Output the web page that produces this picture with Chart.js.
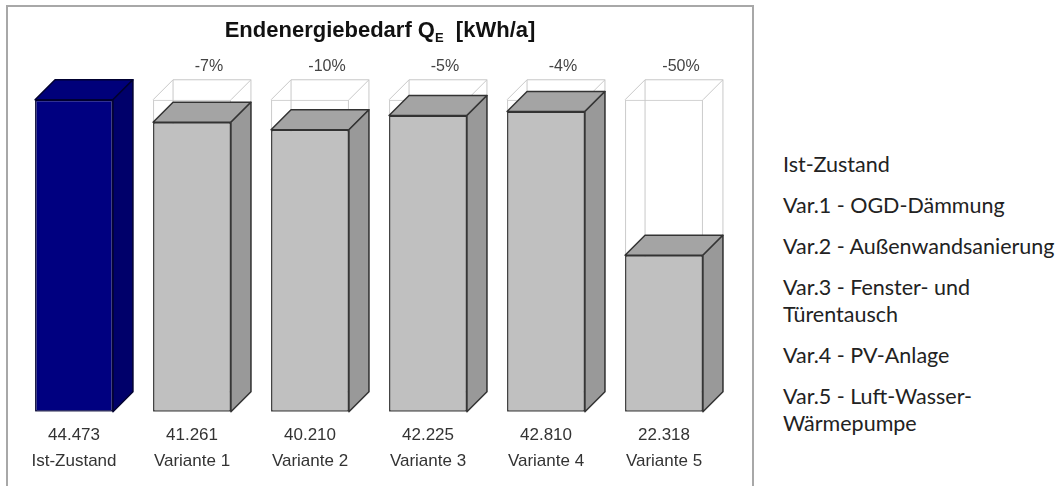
<!DOCTYPE html>
<html>
<head>
    <title>Endenergiebedarf</title>
    <script src="https://cdn.jsdelivr.net/npm/chart.js"></script>
    <style>
        body {
            margin: 0;
            background: #fff;
            width: 1062px;
            height: 486px;
            overflow: hidden;
            position: relative;
        }
        #box {
            position: absolute;
            left: 6px;
            top: 5px;
            width: 744px;
            height: 490px;
            border: 2px solid #a8a8a8;
            background: #fff;
        }
        #chartWrap {
            position: absolute;
            left: 0;
            top: 0;
            width: 744px;
            height: 479px;
        }
        #title {
            position: absolute;
            left: 0;
            top: 10px;
            width: 744px;
            text-align: center;
            font-family: "Liberation Sans", Arial, sans-serif;
            font-weight: bold;
            font-size: 22px;
            color: #111;
        }
        #title sub {
            font-size: 13px;
            vertical-align: -5px;
        }
        #measures {
            position: absolute;
            left: 783px;
            top: 151px;
            font-family: Lato, "Open Sans", sans-serif;
            font-size: 21.5px;
            line-height: 27px;
            color: #222;
            white-space: nowrap;
        }
        #measures div {
            margin-bottom: 14px;
        }
    </style>
</head>
<body>
    <div id="box">
        <div id="chartWrap"><canvas id="energyChart"></canvas></div>
        <div id="title">Endenergiebedarf Q<sub>E</sub>&nbsp; [kWh/a]</div>
    </div>
    <div id="measures"></div>

    <script>
        // Data
        const categories = ['Ist-Zustand', 'Variante 1', 'Variante 2', 'Variante 3', 'Variante 4', 'Variante 5'];
        const demand = [44473, 41261, 40210, 42225, 42810, 22318];
        const reference = [null, 44473, 44473, 44473, 44473, 44473];
        const changeLabels = ['', '-7%', '-10%', '-5%', '-4%', '-50%'];
        const measures = [
            ['Ist-Zustand'],
            ['Var.1 - OGD-Dämmung'],
            ['Var.2 - Außenwandsanierung'],
            ['Var.3 - Fenster- und', 'Türentausch'],
            ['Var.4 - PV-Anlage'],
            ['Var.5 - Luft-Wasser-', 'Wärmepumpe']
        ];

        // Right-hand list
        const list = document.getElementById('measures');
        measures.forEach(lines => {
            const d = document.createElement('div');
            lines.forEach((t, i) => {
                if (i > 0) d.appendChild(document.createElement('br'));
                d.appendChild(document.createTextNode(t));
            });
            list.appendChild(d);
        });

        // 44473 -> "44.473"
        function fmt(v) {
            return Math.floor(v / 1000) + '.' + String(v % 1000).padStart(3, '0');
        }

        const D = 20; // depth of the 3D effect in px
        const frontColors = demand.map((v, i) => i === 0 ? '#000080' : '#c0c0c0');
        const topColors = demand.map((v, i) => i === 0 ? '#00007a' : '#a4a4a4');
        const sideColors = demand.map((v, i) => i === 0 ? '#00006a' : '#999999');

        function barBox(bar) {
            const p = bar.getProps(['x', 'y', 'base', 'width'], true);
            return { l: p.x - p.width / 2, r: p.x + p.width / 2, y: p.y, base: p.base, x: p.x };
        }

        const depthPlugin = {
            id: 'depth',
            beforeDatasetsDraw(chart) {
                // wireframe of the Ist-Zustand box behind each variant
                const ctx = chart.ctx;
                const bars = chart.getDatasetMeta(1).data;
                ctx.save();
                ctx.strokeStyle = '#c8c8c8';
                ctx.lineWidth = 1;
                bars.forEach((bar, i) => {
                    if (reference[i] == null) return;
                    const b = barBox(bar);
                    ctx.beginPath();
                    ctx.rect(b.l + D, b.y - D, b.r - b.l, b.base - b.y);
                    ctx.moveTo(b.l, b.y); ctx.lineTo(b.l + D, b.y - D);
                    ctx.moveTo(b.r, b.y); ctx.lineTo(b.r + D, b.y - D);
                    ctx.moveTo(b.r, b.base); ctx.lineTo(b.r + D, b.base - D);
                    ctx.stroke();
                });
                ctx.restore();
            },
            afterDatasetsDraw(chart) {
                const ctx = chart.ctx;
                const bars = chart.getDatasetMeta(0).data;
                ctx.save();
                ctx.lineWidth = 1.5;
                ctx.lineJoin = 'round';
                bars.forEach((bar, i) => {
                    const b = barBox(bar);
                    ctx.strokeStyle = i === 0 ? '#000030' : '#333';
                    // top face
                    ctx.beginPath();
                    ctx.moveTo(b.l, b.y);
                    ctx.lineTo(b.l + D, b.y - D);
                    ctx.lineTo(b.r + D, b.y - D);
                    ctx.lineTo(b.r, b.y);
                    ctx.closePath();
                    ctx.fillStyle = topColors[i];
                    ctx.fill();
                    ctx.stroke();
                    // side face
                    ctx.beginPath();
                    ctx.moveTo(b.r, b.y);
                    ctx.lineTo(b.r + D, b.y - D);
                    ctx.lineTo(b.r + D, b.base - D);
                    ctx.lineTo(b.r, b.base);
                    ctx.closePath();
                    ctx.fillStyle = sideColors[i];
                    ctx.fill();
                    ctx.stroke();
                });
                // percentage change above the reference boxes
                const refBars = chart.getDatasetMeta(1).data;
                ctx.fillStyle = '#444';
                ctx.font = '16px "Liberation Sans", Arial, sans-serif';
                ctx.textAlign = 'center';
                ctx.textBaseline = 'middle';
                refBars.forEach((bar, i) => {
                    if (!changeLabels[i]) return;
                    const b = barBox(bar);
                    ctx.fillText(changeLabels[i], b.x + D / 2 + 7, b.y - D - 13);
                });
                ctx.restore();
            }
        };

        const ctx = document.getElementById('energyChart').getContext('2d');
        new Chart(ctx, {
            type: 'bar',
            data: {
                labels: categories,
                datasets: [
                    {
                        label: 'Endenergiebedarf',
                        data: demand,
                        backgroundColor: frontColors,
                        borderColor: demand.map((v, i) => i === 0 ? '#000030' : '#333'),
                        borderWidth: 1.5,
                        borderSkipped: false,
                        barPercentage: 0.66,
                        categoryPercentage: 1
                    },
                    {
                        label: 'Ist-Zustand',
                        data: reference,
                        backgroundColor: 'rgba(0,0,0,0)',
                        borderColor: '#c8c8c8',
                        borderWidth: 1,
                        borderSkipped: false,
                        barPercentage: 0.66,
                        categoryPercentage: 1
                    }
                ]
            },
            options: {
                responsive: true,
                maintainAspectRatio: false,
                animation: false,
                layout: {
                    padding: { left: 7, right: 29, top: 54, bottom: 9.5 }
                },
                plugins: {
                    legend: { display: false },
                    tooltip: { enabled: false },
                    title: { display: false }
                },
                scales: {
                    x: {
                        grid: { display: false },
                        border: { display: false },
                        ticks: {
                            color: '#333',
                            padding: 2,
                            font: { family: '"Liberation Sans", Arial, sans-serif', size: 17, lineHeight: 1.55 },
                            callback: function(value, index) {
                                return [fmt(demand[index]), categories[index]];
                            }
                        }
                    },
                    y: {
                        display: false,
                        min: 0,
                        max: 50000
                    }
                },
                datasets: {
                    bar: { grouped: false }
                }
            },
            plugins: [depthPlugin]
        });
    </script>
</body>
</html>
